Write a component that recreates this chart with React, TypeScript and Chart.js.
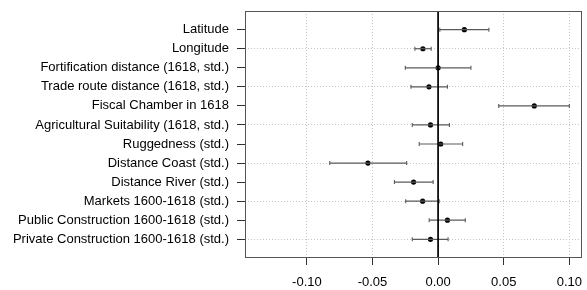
import React, { useEffect, useRef } from "react";
import { Chart, registerables } from "chart.js";

Chart.register(...registerables);

const rows: string[] = [
  "Latitude",
  "Longitude",
  "Fortification distance (1618, std.)",
  "Trade route distance (1618, std.)",
  "Fiscal Chamber in 1618",
  "Agricultural Suitability (1618, std.)",
  "Ruggedness (std.)",
  "Distance Coast (std.)",
  "Distance River (std.)",
  "Markets 1600-1618 (std.)",
  "Public Construction 1600-1618 (std.)",
  "Private Construction 1600-1618 (std.)",
];

const estimates: number[] = [0.02, -0.0116, 0.0, -0.007, 0.0733, -0.0058, 0.002, -0.0535, -0.0187, -0.0118, 0.0071, -0.0058];
const lower: number[] = [0.0013, -0.0177, -0.025, -0.0207, 0.0462, -0.0197, -0.0144, -0.0826, -0.0333, -0.0247, -0.0068, -0.0197];
const upper: number[] = [0.0387, -0.0053, 0.025, 0.0071, 0.1, 0.0086, 0.0187, -0.024, -0.0038, 0.0008, 0.0207, 0.0076];

const xTicks: number[] = [-0.1, -0.05, 0, 0.05, 0.1];
// rows that carry a dotted horizontal guide line
const gridRows: number[] = [1, 3, 5, 7, 9, 11];

const X_MIN = -0.1472;
const X_MAX = 0.1096;
const Y_MIN = -0.98;
const Y_MAX = 11.93;

const FONT = { family: "'Liberation Sans', Arial, sans-serif", size: 13 };
const GRID = "#c4c4c4";
const CLEAR = "rgba(0,0,0,0)";

const boxPlugin = {
  id: "boxPlugin",
  afterDraw(chart: any) {
    const { ctx, chartArea } = chart;
    ctx.save();
    ctx.strokeStyle = "#555";
    ctx.lineWidth = 1;
    ctx.strokeRect(
      Math.round(chartArea.left) + 0.5,
      Math.round(chartArea.top) + 0.5,
      Math.round(chartArea.right - chartArea.left) - 1,
      Math.round(chartArea.bottom - chartArea.top)
    );
    ctx.restore();
  },
};

export default function App() {
  const ref = useRef<HTMLCanvasElement | null>(null);

  useEffect(() => {
    if (!ref.current) return;
    const barColor = "#5a5a5a";
    const errorSets = rows.map((_, i) => ({
      type: "scatter" as const,
      data: [
        { x: lower[i], y: i },
        { x: upper[i], y: i },
      ],
      showLine: true,
      borderColor: barColor,
      borderWidth: 1.2,
      pointStyle: "line" as const,
      rotation: 90,
      pointRadius: 2,
      pointBorderColor: barColor,
      pointBorderWidth: 1.1,
      pointBackgroundColor: barColor,
    }));

    const chart = new Chart(ref.current, {
      type: "scatter",
      data: {
        datasets: [
          {
            data: [
              { x: 0, y: Y_MIN },
              { x: 0, y: Y_MAX },
            ],
            showLine: true,
            borderColor: "#000",
            borderWidth: 1,
            pointRadius: 0,
          },
          ...errorSets,
          {
            data: estimates.map((v, i) => ({ x: v, y: i })),
            showLine: false,
            pointRadius: 2.6,
            pointBackgroundColor: "#000",
            pointBorderColor: "#000",
            pointBorderWidth: 0,
          },
        ] as any,
      },
      options: {
        animation: false,
        responsive: false,
        maintainAspectRatio: false,
        layout: { padding: { top: 11, right: 3, left: 0, bottom: 0 } },
        plugins: { legend: { display: false }, tooltip: { enabled: false } },
        scales: {
          x: {
            type: "linear",
            min: X_MIN,
            max: X_MAX,
            afterBuildTicks: (scale: any) => {
              scale.ticks = xTicks.map((v) => ({ value: v }));
            },
            afterFit: (scale: any) => {
              scale.height = 33;
              scale.paddingLeft = 0;
              scale.paddingRight = 0;
            },
            ticks: {
              font: FONT,
              color: "#000",
              padding: 10,
              maxRotation: 0,
              autoSkip: false,
              callback: (v: any) => Number(v).toFixed(2),
            },
            grid: {
              color: (ctx: any) => (xTicks[ctx.index] === 0 ? CLEAR : GRID),
              tickColor: "#333",
              tickLength: 8,
              tickBorderDash: [],
              lineWidth: 1,
            },
            border: { display: false, dash: [1, 2] },
          },
          y: {
            type: "linear",
            position: "left",
            min: Y_MIN,
            max: Y_MAX,
            reverse: true,
            afterBuildTicks: (scale: any) => {
              scale.ticks = rows.map((_, i) => ({ value: i }));
            },
            afterFit: (scale: any) => {
              scale.width = 245;
              scale.paddingTop = 0;
              scale.paddingBottom = 0;
            },
            ticks: {
              font: FONT,
              color: "#000",
              padding: 8,
              autoSkip: false,
              callback: (v: any) => rows[Math.round(Number(v))] ?? "",
            },
            grid: {
              drawOnChartArea: false,
              tickColor: "#333",
              tickLength: 8,
              tickBorderDash: [],
              lineWidth: 1,
            },
            border: { display: false },
          },
          yGrid: {
            type: "linear",
            position: "left",
            min: Y_MIN,
            max: Y_MAX,
            reverse: true,
            afterBuildTicks: (scale: any) => {
              scale.ticks = gridRows.map((i) => ({ value: i }));
            },
            afterFit: (scale: any) => {
              scale.width = 0;
              scale.paddingTop = 0;
              scale.paddingBottom = 0;
            },
            ticks: { display: false },
            grid: {
              color: GRID,
              drawTicks: false,
              lineWidth: 1,
            },
            border: { display: false, dash: [1, 2] },
          },
        },
      },
      plugins: [boxPlugin],
    });
    return () => chart.destroy();
  }, []);

  return (
    <div style={{ position: "fixed", left: 0, top: 0, width: 587, height: 290, background: "#fff" }}>
      <canvas ref={ref} width={587} height={290} style={{ width: 587, height: 290 }} />
    </div>
  );
}
